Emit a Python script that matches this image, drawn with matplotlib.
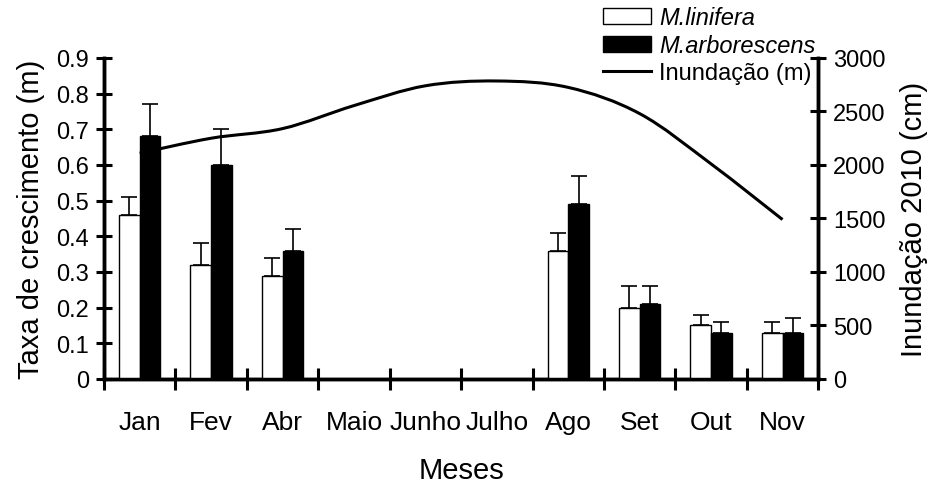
"""Taxa de crescimento de Mauritia spp. e inundação mensal (2010)."""

import numpy as np
import matplotlib
matplotlib.use("Agg")
import matplotlib.pyplot as plt
from matplotlib.path import Path
from matplotlib.patches import PathPatch, Patch
from matplotlib.lines import Line2D

plt.rcParams["font.family"] = ["Liberation Sans", "DejaVu Sans"]

months = ["Jan", "Fev", "Abr", "Maio", "Junho", "Julho", "Ago", "Set", "Out", "Nov"]
linifera = [0.46, 0.32, 0.29, 0, 0, 0, 0.36, 0.20, 0.15, 0.13]
linifera_err = [0.05, 0.06, 0.05, 0, 0, 0, 0.05, 0.06, 0.03, 0.03]
arborescens = [0.68, 0.60, 0.36, 0, 0, 0, 0.49, 0.21, 0.13, 0.13]
arborescens_err = [0.09, 0.10, 0.06, 0, 0, 0, 0.08, 0.05, 0.03, 0.04]
inundacao = [2110, 2250, 2340, 2555, 2740, 2785, 2725, 2480, 2010, 1490]

has_data = [i for i, v in enumerate(linifera) if v > 0]


def smooth_path(x, y):
    """Bezier path through the points, like Excel's smoothed line."""
    pts = np.column_stack([x, y]).astype(float)
    verts = [pts[0]]
    codes = [Path.MOVETO]
    n = len(pts)
    for i in range(n - 1):
        p0 = pts[max(i - 1, 0)]
        p1 = pts[i]
        p2 = pts[i + 1]
        p3 = pts[min(i + 2, n - 1)]
        c1 = p1 + (p2 - p0) / 6.0
        c2 = p2 - (p3 - p1) / 6.0
        verts += [c1, c2, p2]
        codes += [Path.CURVE4] * 3
    return Path(verts, codes)


fig = plt.figure(figsize=(9.3, 4.85), dpi=100)
ax = fig.add_axes([0.1118, 0.2165, 0.768, 0.6619])
ax2 = ax.twinx()

x = np.arange(len(months))
w = 0.29

# flood line on the secondary axis, behind the bars
ax2.add_patch(PathPatch(smooth_path(x, inundacao), fill=False,
                        edgecolor="black", linewidth=2.2, capstyle="butt"))
ax2.set_ylim(0, 3000)
ax2.set_yticks(np.arange(0, 3001, 500))

idx = np.array(has_data)
ax.bar(idx - w / 2, np.take(linifera, idx), w, color="white",
       edgecolor="black", linewidth=1)
ax.bar(idx + w / 2, np.take(arborescens, idx), w, color="black",
       edgecolor="black", linewidth=1)
ax.errorbar(idx - w / 2, np.take(linifera, idx),
            yerr=[np.zeros(len(idx)), np.take(linifera_err, idx)],
            fmt="none", ecolor="black", elinewidth=1.2, capsize=6, capthick=1.2)
ax.errorbar(idx + w / 2, np.take(arborescens, idx),
            yerr=[np.zeros(len(idx)), np.take(arborescens_err, idx)],
            fmt="none", ecolor="black", elinewidth=1.2, capsize=6, capthick=1.2)

ax.set_zorder(ax2.get_zorder() + 1)
ax.patch.set_visible(False)

ax.set_xlim(-0.5, len(months) - 0.5)
ax.set_ylim(0, 0.9)
ax.set_yticks(np.arange(0, 0.91, 0.1))
ax.set_yticklabels(["0"] + [f"{v:.1f}" for v in np.arange(0.1, 0.91, 0.1)])

ax.set_xticks(np.arange(-0.5, len(months), 1.0))
ax.set_xticklabels([])
ax.set_xticks(x, minor=True)
ax.set_xticklabels(months, minor=True, fontsize=19)
ax.tick_params(axis="x", which="major", direction="inout", length=16, width=2.2)
ax.tick_params(axis="x", which="minor", length=0, pad=22)
ax.tick_params(axis="y", direction="inout", length=11.5, width=2.2,
               labelsize=17, pad=5)
ax2.tick_params(axis="y", direction="inout", length=11.5, width=2.2,
                labelsize=17, pad=5)

for a in (ax, ax2):
    a.spines["top"].set_visible(False)
    for s in ("left", "right", "bottom"):
        a.spines[s].set_linewidth(2.5)

ax.set_xlabel("Meses", fontsize=21, labelpad=16)
ax.set_ylabel("Taxa de crescimento (m)", fontsize=21, labelpad=8)
ax2.set_ylabel("Inundação 2010 (cm)", fontsize=21, labelpad=10)

handles = [Patch(facecolor="white", edgecolor="black", linewidth=1),
           Patch(facecolor="black", edgecolor="black", linewidth=1),
           Line2D([], [], color="black", linewidth=2.2)]
leg = fig.legend(handles, ["M.linifera", "M.arborescens", "Inundação (m)"],
                 loc="upper left", bbox_to_anchor=(601 / 930, 1 - 5 / 485),
                 frameon=False, fontsize=17, borderpad=0.1,
                 handlelength=2.0, handletextpad=0.35, labelspacing=0.2,
                 borderaxespad=0)
leg.get_texts()[0].set_fontstyle("italic")
leg.get_texts()[1].set_fontstyle("italic")

plt.savefig("out.png", dpi=100)
plt.close()
